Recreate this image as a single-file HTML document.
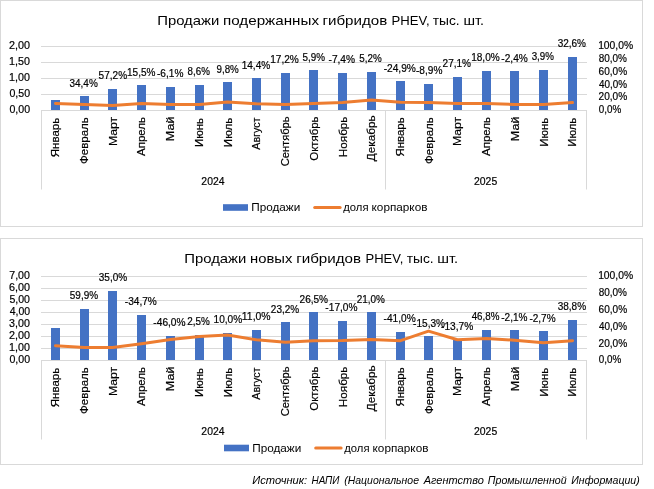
<!DOCTYPE html>
<html lang="ru"><head><meta charset="utf-8"><title>PHEV</title>
<style>html,body{margin:0;padding:0;background:#fff;}svg{display:block;}</style></head>
<body>
<svg width="654" height="489" viewBox="0 0 654 489">
<rect width="654" height="489" fill="#fff"/>
<rect x="0.5" y="0.5" width="642" height="226" fill="#fff" stroke="#D9D9D9" stroke-width="1"/>
<text id="c1t0" x="157.27" y="24.8" font-family="Liberation Sans, sans-serif"  font-size="13.5" fill="#000"  textLength="62.01" lengthAdjust="spacingAndGlyphs">Продажи</text>
<text id="c1t1" x="223.00" y="24.8" font-family="Liberation Sans, sans-serif"  font-size="13.5" fill="#000"  textLength="95.98" lengthAdjust="spacingAndGlyphs">подержанных</text>
<text id="c1t2" x="322.44" y="24.8" font-family="Liberation Sans, sans-serif"  font-size="13.5" fill="#000"  textLength="64.84" lengthAdjust="spacingAndGlyphs">гибридов</text>
<text id="c1t3" x="391.55" y="24.8" font-family="Liberation Sans, sans-serif"  font-size="13.5" fill="#000"  textLength="38.12" lengthAdjust="spacingAndGlyphs">PHEV,</text>
<text id="c1t4" x="432.71" y="24.8" font-family="Liberation Sans, sans-serif"  font-size="13.5" fill="#000"  textLength="26.92" lengthAdjust="spacingAndGlyphs">тыс.</text>
<text id="c1t5" x="463.58" y="24.8" font-family="Liberation Sans, sans-serif"  font-size="13.5" fill="#000"  textLength="20.52" lengthAdjust="spacingAndGlyphs">шт.</text>
<line x1="41.0" y1="46.5" x2="587.0" y2="46.5" stroke="#D9D9D9" stroke-width="1"/>
<line x1="41.0" y1="62.5" x2="587.0" y2="62.5" stroke="#D9D9D9" stroke-width="1"/>
<line x1="41.0" y1="78.5" x2="587.0" y2="78.5" stroke="#D9D9D9" stroke-width="1"/>
<line x1="41.0" y1="94.5" x2="587.0" y2="94.5" stroke="#D9D9D9" stroke-width="1"/>
<line x1="41.0" y1="110.5" x2="587.0" y2="110.5" stroke="#D9D9D9" stroke-width="1"/>
<text id="c1y0" x="9.01" y="49.2" font-family="Liberation Sans, sans-serif"  font-size="10.8" fill="#000" stroke="#000" stroke-width="0.2" textLength="20.99" lengthAdjust="spacingAndGlyphs">2,00</text>
<text id="c1y1" x="9.04" y="65.2" font-family="Liberation Sans, sans-serif"  font-size="10.8" fill="#000" stroke="#000" stroke-width="0.2" textLength="20.83" lengthAdjust="spacingAndGlyphs">1,50</text>
<text id="c1y2" x="9.04" y="81.2" font-family="Liberation Sans, sans-serif"  font-size="10.8" fill="#000" stroke="#000" stroke-width="0.2" textLength="20.83" lengthAdjust="spacingAndGlyphs">1,00</text>
<text id="c1y3" x="9.41" y="97.2" font-family="Liberation Sans, sans-serif"  font-size="10.8" fill="#000" stroke="#000" stroke-width="0.2" textLength="20.63" lengthAdjust="spacingAndGlyphs">0,50</text>
<text id="c1y4" x="9.41" y="113.2" font-family="Liberation Sans, sans-serif"  font-size="10.8" fill="#000" stroke="#000" stroke-width="0.2" textLength="20.63" lengthAdjust="spacingAndGlyphs">0,00</text>
<text id="c1r0" x="598.13" y="48.9" font-family="Liberation Sans, sans-serif"  font-size="10.8" fill="#000" stroke="#000" stroke-width="0.2" textLength="34.92" lengthAdjust="spacingAndGlyphs">100,0%</text>
<text id="c1r1" x="598.70" y="61.9" font-family="Liberation Sans, sans-serif"  font-size="10.8" fill="#000" stroke="#000" stroke-width="0.2" textLength="28.26" lengthAdjust="spacingAndGlyphs">80,0%</text>
<text id="c1r2" x="598.62" y="74.9" font-family="Liberation Sans, sans-serif"  font-size="10.8" fill="#000" stroke="#000" stroke-width="0.2" textLength="28.48" lengthAdjust="spacingAndGlyphs">60,0%</text>
<text id="c1r3" x="599.03" y="88.0" font-family="Liberation Sans, sans-serif"  font-size="10.8" fill="#000" stroke="#000" stroke-width="0.2" textLength="28.06" lengthAdjust="spacingAndGlyphs">40,0%</text>
<text id="c1r4" x="598.53" y="100.4" font-family="Liberation Sans, sans-serif"  font-size="10.8" fill="#000" stroke="#000" stroke-width="0.2" textLength="28.69" lengthAdjust="spacingAndGlyphs">20,0%</text>
<text id="c1r5" x="598.73" y="112.8" font-family="Liberation Sans, sans-serif"  font-size="10.8" fill="#000" stroke="#000" stroke-width="0.2" textLength="22.39" lengthAdjust="spacingAndGlyphs">0,0%</text>
<rect x="51" y="100" width="9" height="10.0" fill="#4472C4"/>
<rect x="80" y="96" width="9" height="14.0" fill="#4472C4"/>
<rect x="108" y="89" width="9" height="21.0" fill="#4472C4"/>
<rect x="137" y="85" width="9" height="25.0" fill="#4472C4"/>
<rect x="166" y="87" width="9" height="23.0" fill="#4472C4"/>
<rect x="195" y="85" width="9" height="25.0" fill="#4472C4"/>
<rect x="223" y="82" width="9" height="28.0" fill="#4472C4"/>
<rect x="252" y="78" width="9" height="32.0" fill="#4472C4"/>
<rect x="281" y="73" width="9" height="37.0" fill="#4472C4"/>
<rect x="309" y="70" width="9" height="40.0" fill="#4472C4"/>
<rect x="338" y="73" width="9" height="37.0" fill="#4472C4"/>
<rect x="367" y="72" width="9" height="38.0" fill="#4472C4"/>
<rect x="396" y="81" width="9" height="29.0" fill="#4472C4"/>
<rect x="424" y="84" width="9" height="26.0" fill="#4472C4"/>
<rect x="453" y="77" width="9" height="33.0" fill="#4472C4"/>
<rect x="482" y="71" width="9" height="39.0" fill="#4472C4"/>
<rect x="510" y="71" width="9" height="39.0" fill="#4472C4"/>
<rect x="539" y="70" width="9" height="40.0" fill="#4472C4"/>
<rect x="568" y="57" width="9" height="53.0" fill="#4472C4"/>
<line x1="41.5" y1="110.5" x2="41.5" y2="189.5" stroke="#D9D9D9" stroke-width="1"/>
<line x1="385.5" y1="110.5" x2="385.5" y2="189.5" stroke="#D9D9D9" stroke-width="1"/>
<line x1="586.5" y1="110.5" x2="586.5" y2="189.5" stroke="#D9D9D9" stroke-width="1"/>
<polyline points="55.5,103.5 84.5,104.5 112.5,105.4 141.5,103.4 170.5,104.6 199.5,104.6 227.5,102.0 256.5,103.8 285.5,104.6 313.5,103.4 342.5,102.6 371.5,100.1 400.5,102.3 428.5,102.6 457.5,103.6 486.5,103.6 514.5,104.4 543.5,104.4 572.5,102.6" fill="none" stroke="#ED7D31" stroke-width="3" stroke-linecap="round" stroke-linejoin="round"/>
<text id="c1d1" x="69.52" y="87.1" font-family="Liberation Sans, sans-serif"  font-size="10.8" fill="#000" stroke="#000" stroke-width="0.2" textLength="28.24" lengthAdjust="spacingAndGlyphs">34,4%</text>
<text id="c1d2" x="98.60" y="78.9" font-family="Liberation Sans, sans-serif"  font-size="10.8" fill="#000" stroke="#000" stroke-width="0.2" textLength="28.48" lengthAdjust="spacingAndGlyphs">57,2%</text>
<text id="c1d3" x="127.05" y="76.3" font-family="Liberation Sans, sans-serif"  font-size="10.8" fill="#000" stroke="#000" stroke-width="0.2" textLength="28.44" lengthAdjust="spacingAndGlyphs">15,5%</text>
<text id="c1d4" x="156.98" y="76.8" font-family="Liberation Sans, sans-serif"  font-size="10.8" fill="#000" stroke="#000" stroke-width="0.2" textLength="26.41" lengthAdjust="spacingAndGlyphs">-6,1%</text>
<text id="c1d5" x="187.57" y="75.1" font-family="Liberation Sans, sans-serif"  font-size="10.8" fill="#000" stroke="#000" stroke-width="0.2" textLength="22.27" lengthAdjust="spacingAndGlyphs">8,6%</text>
<text id="c1d6" x="216.51" y="72.7" font-family="Liberation Sans, sans-serif"  font-size="10.8" fill="#000" stroke="#000" stroke-width="0.2" textLength="22.30" lengthAdjust="spacingAndGlyphs">9,8%</text>
<text id="c1d7" x="241.67" y="69.3" font-family="Liberation Sans, sans-serif"  font-size="10.8" fill="#000" stroke="#000" stroke-width="0.2" textLength="28.52" lengthAdjust="spacingAndGlyphs">14,4%</text>
<text id="c1d8" x="270.18" y="62.9" font-family="Liberation Sans, sans-serif"  font-size="10.8" fill="#000" stroke="#000" stroke-width="0.2" textLength="28.69" lengthAdjust="spacingAndGlyphs">17,2%</text>
<text id="c1d9" x="302.62" y="60.9" font-family="Liberation Sans, sans-serif"  font-size="10.8" fill="#000" stroke="#000" stroke-width="0.2" textLength="22.46" lengthAdjust="spacingAndGlyphs">5,9%</text>
<text id="c1d10" x="328.50" y="63.1" font-family="Liberation Sans, sans-serif"  font-size="10.8" fill="#000" stroke="#000" stroke-width="0.2" textLength="26.55" lengthAdjust="spacingAndGlyphs">-7,4%</text>
<text id="c1d11" x="359.23" y="61.7" font-family="Liberation Sans, sans-serif"  font-size="10.8" fill="#000" stroke="#000" stroke-width="0.2" textLength="22.43" lengthAdjust="spacingAndGlyphs">5,2%</text>
<text id="c1d12" x="383.65" y="72.3" font-family="Liberation Sans, sans-serif"  font-size="10.8" fill="#000" stroke="#000" stroke-width="0.2" textLength="32.26" lengthAdjust="spacingAndGlyphs">-24,9%</text>
<text id="c1d13" x="415.98" y="73.8" font-family="Liberation Sans, sans-serif"  font-size="10.8" fill="#000" stroke="#000" stroke-width="0.2" textLength="26.41" lengthAdjust="spacingAndGlyphs">-8,9%</text>
<text id="c1d14" x="442.55" y="66.9" font-family="Liberation Sans, sans-serif"  font-size="10.8" fill="#000" stroke="#000" stroke-width="0.2" textLength="28.52" lengthAdjust="spacingAndGlyphs">27,1%</text>
<text id="c1d15" x="471.13" y="60.5" font-family="Liberation Sans, sans-serif"  font-size="10.8" fill="#000" stroke="#000" stroke-width="0.2" textLength="28.58" lengthAdjust="spacingAndGlyphs">18,0%</text>
<text id="c1d16" x="501.35" y="62.2" font-family="Liberation Sans, sans-serif"  font-size="10.8" fill="#000" stroke="#000" stroke-width="0.2" textLength="26.46" lengthAdjust="spacingAndGlyphs">-2,4%</text>
<text id="c1d17" x="531.64" y="59.9" font-family="Liberation Sans, sans-serif"  font-size="10.8" fill="#000" stroke="#000" stroke-width="0.2" textLength="22.22" lengthAdjust="spacingAndGlyphs">3,9%</text>
<text id="c1d18" x="557.64" y="46.8" font-family="Liberation Sans, sans-serif"  font-size="10.8" fill="#000" stroke="#000" stroke-width="0.2" textLength="28.34" lengthAdjust="spacingAndGlyphs">32,6%</text>
<text id="c1m0" transform="translate(59.3,157.21) rotate(-90)" font-family="Liberation Sans, sans-serif" font-size="11.2"  fill="#000" stroke="#000" stroke-width="0.2" textLength="39.34" lengthAdjust="spacingAndGlyphs">Январь</text>
<text id="c1m1" transform="translate(88.02,163.98) rotate(-90)" font-family="Liberation Sans, sans-serif" font-size="11.2"  fill="#000" stroke="#000" stroke-width="0.2" textLength="46.74" lengthAdjust="spacingAndGlyphs">Февраль</text>
<text id="c1m2" transform="translate(116.74,146.06) rotate(-90)" font-family="Liberation Sans, sans-serif" font-size="11.2"  fill="#000" stroke="#000" stroke-width="0.2" textLength="29.24" lengthAdjust="spacingAndGlyphs">Март</text>
<text id="c1m3" transform="translate(145.46,155.97) rotate(-90)" font-family="Liberation Sans, sans-serif" font-size="11.2"  fill="#000" stroke="#000" stroke-width="0.2" textLength="38.95" lengthAdjust="spacingAndGlyphs">Апрель</text>
<text id="c1m4" transform="translate(174.18,141.15) rotate(-90)" font-family="Liberation Sans, sans-serif" font-size="11.2"  fill="#000" stroke="#000" stroke-width="0.2" textLength="24.54" lengthAdjust="spacingAndGlyphs">Май</text>
<text id="c1m5" transform="translate(202.9,147.04) rotate(-90)" font-family="Liberation Sans, sans-serif" font-size="11.2"  fill="#000" stroke="#000" stroke-width="0.2" textLength="29.11" lengthAdjust="spacingAndGlyphs">Июнь</text>
<text id="c1m6" transform="translate(231.62,147.14) rotate(-90)" font-family="Liberation Sans, sans-serif" font-size="11.2"  fill="#000" stroke="#000" stroke-width="0.2" textLength="29.41" lengthAdjust="spacingAndGlyphs">Июль</text>
<text id="c1m7" transform="translate(260.34,149.72) rotate(-90)" font-family="Liberation Sans, sans-serif" font-size="11.2"  fill="#000" stroke="#000" stroke-width="0.2" textLength="32.15" lengthAdjust="spacingAndGlyphs">Август</text>
<text id="c1m8" transform="translate(289.06,166.29) rotate(-90)" font-family="Liberation Sans, sans-serif" font-size="11.2"  fill="#000" stroke="#000" stroke-width="0.2" textLength="49.81" lengthAdjust="spacingAndGlyphs">Сентябрь</text>
<text id="c1m9" transform="translate(317.78,160.70) rotate(-90)" font-family="Liberation Sans, sans-serif" font-size="11.2"  fill="#000" stroke="#000" stroke-width="0.2" textLength="44.28" lengthAdjust="spacingAndGlyphs">Октябрь</text>
<text id="c1m10" transform="translate(346.5,157.14) rotate(-90)" font-family="Liberation Sans, sans-serif" font-size="11.2"  fill="#000" stroke="#000" stroke-width="0.2" textLength="40.60" lengthAdjust="spacingAndGlyphs">Ноябрь</text>
<text id="c1m11" transform="translate(375.22,161.17) rotate(-90)" font-family="Liberation Sans, sans-serif" font-size="11.2"  fill="#000" stroke="#000" stroke-width="0.2" textLength="45.78" lengthAdjust="spacingAndGlyphs">Декабрь</text>
<text id="c1m12" transform="translate(403.94,156.59) rotate(-90)" font-family="Liberation Sans, sans-serif" font-size="11.2"  fill="#000" stroke="#000" stroke-width="0.2" textLength="39.31" lengthAdjust="spacingAndGlyphs">Январь</text>
<text id="c1m13" transform="translate(432.66,163.98) rotate(-90)" font-family="Liberation Sans, sans-serif" font-size="11.2"  fill="#000" stroke="#000" stroke-width="0.2" textLength="46.74" lengthAdjust="spacingAndGlyphs">Февраль</text>
<text id="c1m14" transform="translate(461.38,146.06) rotate(-90)" font-family="Liberation Sans, sans-serif" font-size="11.2"  fill="#000" stroke="#000" stroke-width="0.2" textLength="29.24" lengthAdjust="spacingAndGlyphs">Март</text>
<text id="c1m15" transform="translate(490.1,155.97) rotate(-90)" font-family="Liberation Sans, sans-serif" font-size="11.2"  fill="#000" stroke="#000" stroke-width="0.2" textLength="38.95" lengthAdjust="spacingAndGlyphs">Апрель</text>
<text id="c1m16" transform="translate(518.82,141.15) rotate(-90)" font-family="Liberation Sans, sans-serif" font-size="11.2"  fill="#000" stroke="#000" stroke-width="0.2" textLength="24.54" lengthAdjust="spacingAndGlyphs">Май</text>
<text id="c1m17" transform="translate(547.54,146.68) rotate(-90)" font-family="Liberation Sans, sans-serif" font-size="11.2"  fill="#000" stroke="#000" stroke-width="0.2" textLength="28.78" lengthAdjust="spacingAndGlyphs">Июнь</text>
<text id="c1m18" transform="translate(576.26,146.78) rotate(-90)" font-family="Liberation Sans, sans-serif" font-size="11.2"  fill="#000" stroke="#000" stroke-width="0.2" textLength="29.09" lengthAdjust="spacingAndGlyphs">Июль</text>
<text id="c1yr0" x="201.37" y="184.9" font-family="Liberation Sans, sans-serif"  font-size="10.8" fill="#000" stroke="#000" stroke-width="0.2" textLength="23.16" lengthAdjust="spacingAndGlyphs">2024</text>
<text id="c1yr1" x="474.00" y="184.9" font-family="Liberation Sans, sans-serif"  font-size="10.8" fill="#000" stroke="#000" stroke-width="0.2" textLength="23.23" lengthAdjust="spacingAndGlyphs">2025</text>
<rect x="223" y="204.2" width="25" height="6.6" fill="#4472C4"/>
<text id="c1l0" x="251.21" y="211.1" font-family="Liberation Sans, sans-serif"  font-size="10.8" fill="#000"  textLength="49.07" lengthAdjust="spacingAndGlyphs">Продажи</text>
<line x1="314.7" y1="207.5" x2="340.1" y2="207.5" stroke="#ED7D31" stroke-width="3" stroke-linecap="round"/>
<text id="c1l1" x="343.28" y="211.1" font-family="Liberation Sans, sans-serif"  font-size="10.8" fill="#000"  textLength="25.25" lengthAdjust="spacingAndGlyphs">доля</text>
<text id="c1l2" x="371.57" y="211.1" font-family="Liberation Sans, sans-serif"  font-size="10.8" fill="#000"  textLength="55.87" lengthAdjust="spacingAndGlyphs">корпарков</text>
<rect x="0.5" y="238.5" width="642" height="226" fill="#fff" stroke="#D9D9D9" stroke-width="1"/>
<text id="c2t0" x="184.30" y="262.8" font-family="Liberation Sans, sans-serif"  font-size="13.5" fill="#000"  textLength="62.02" lengthAdjust="spacingAndGlyphs">Продажи</text>
<text id="c2t1" x="249.98" y="262.8" font-family="Liberation Sans, sans-serif"  font-size="13.5" fill="#000"  textLength="42.32" lengthAdjust="spacingAndGlyphs">новых</text>
<text id="c2t2" x="296.17" y="262.8" font-family="Liberation Sans, sans-serif"  font-size="13.5" fill="#000"  textLength="64.92" lengthAdjust="spacingAndGlyphs">гибридов</text>
<text id="c2t3" x="365.47" y="262.8" font-family="Liberation Sans, sans-serif"  font-size="13.5" fill="#000"  textLength="37.85" lengthAdjust="spacingAndGlyphs">PHEV,</text>
<text id="c2t4" x="406.77" y="262.8" font-family="Liberation Sans, sans-serif"  font-size="13.5" fill="#000"  textLength="26.89" lengthAdjust="spacingAndGlyphs">тыс.</text>
<text id="c2t5" x="437.30" y="262.8" font-family="Liberation Sans, sans-serif"  font-size="13.5" fill="#000"  textLength="20.87" lengthAdjust="spacingAndGlyphs">шт.</text>
<line x1="41.0" y1="276.5" x2="587.0" y2="276.5" stroke="#D9D9D9" stroke-width="1"/>
<line x1="41.0" y1="288.5" x2="587.0" y2="288.5" stroke="#D9D9D9" stroke-width="1"/>
<line x1="41.0" y1="300.5" x2="587.0" y2="300.5" stroke="#D9D9D9" stroke-width="1"/>
<line x1="41.0" y1="312.5" x2="587.0" y2="312.5" stroke="#D9D9D9" stroke-width="1"/>
<line x1="41.0" y1="324.5" x2="587.0" y2="324.5" stroke="#D9D9D9" stroke-width="1"/>
<line x1="41.0" y1="336.5" x2="587.0" y2="336.5" stroke="#D9D9D9" stroke-width="1"/>
<line x1="41.0" y1="348.5" x2="587.0" y2="348.5" stroke="#D9D9D9" stroke-width="1"/>
<line x1="41.0" y1="360.5" x2="587.0" y2="360.5" stroke="#D9D9D9" stroke-width="1"/>
<text id="c2y0" x="9.26" y="279.2" font-family="Liberation Sans, sans-serif"  font-size="10.8" fill="#000" stroke="#000" stroke-width="0.2" textLength="20.62" lengthAdjust="spacingAndGlyphs">7,00</text>
<text id="c2y1" x="8.99" y="291.2" font-family="Liberation Sans, sans-serif"  font-size="10.8" fill="#000" stroke="#000" stroke-width="0.2" textLength="21.00" lengthAdjust="spacingAndGlyphs">6,00</text>
<text id="c2y2" x="9.42" y="303.2" font-family="Liberation Sans, sans-serif"  font-size="10.8" fill="#000" stroke="#000" stroke-width="0.2" textLength="20.54" lengthAdjust="spacingAndGlyphs">5,00</text>
<text id="c2y3" x="9.65" y="315.2" font-family="Liberation Sans, sans-serif"  font-size="10.8" fill="#000" stroke="#000" stroke-width="0.2" textLength="20.39" lengthAdjust="spacingAndGlyphs">4,00</text>
<text id="c2y4" x="9.08" y="327.2" font-family="Liberation Sans, sans-serif"  font-size="10.8" fill="#000" stroke="#000" stroke-width="0.2" textLength="20.78" lengthAdjust="spacingAndGlyphs">3,00</text>
<text id="c2y5" x="9.01" y="339.2" font-family="Liberation Sans, sans-serif"  font-size="10.8" fill="#000" stroke="#000" stroke-width="0.2" textLength="20.99" lengthAdjust="spacingAndGlyphs">2,00</text>
<text id="c2y6" x="9.04" y="351.2" font-family="Liberation Sans, sans-serif"  font-size="10.8" fill="#000" stroke="#000" stroke-width="0.2" textLength="20.83" lengthAdjust="spacingAndGlyphs">1,00</text>
<text id="c2y7" x="9.41" y="363.2" font-family="Liberation Sans, sans-serif"  font-size="10.8" fill="#000" stroke="#000" stroke-width="0.2" textLength="20.63" lengthAdjust="spacingAndGlyphs">0,00</text>
<text id="c2r0" x="598.13" y="279.3" font-family="Liberation Sans, sans-serif"  font-size="10.8" fill="#000" stroke="#000" stroke-width="0.2" textLength="34.92" lengthAdjust="spacingAndGlyphs">100,0%</text>
<text id="c2r1" x="598.70" y="296.1" font-family="Liberation Sans, sans-serif"  font-size="10.8" fill="#000" stroke="#000" stroke-width="0.2" textLength="28.26" lengthAdjust="spacingAndGlyphs">80,0%</text>
<text id="c2r2" x="598.62" y="312.90000000000003" font-family="Liberation Sans, sans-serif"  font-size="10.8" fill="#000" stroke="#000" stroke-width="0.2" textLength="28.48" lengthAdjust="spacingAndGlyphs">60,0%</text>
<text id="c2r3" x="599.03" y="329.70000000000005" font-family="Liberation Sans, sans-serif"  font-size="10.8" fill="#000" stroke="#000" stroke-width="0.2" textLength="28.06" lengthAdjust="spacingAndGlyphs">40,0%</text>
<text id="c2r4" x="598.53" y="346.5" font-family="Liberation Sans, sans-serif"  font-size="10.8" fill="#000" stroke="#000" stroke-width="0.2" textLength="28.69" lengthAdjust="spacingAndGlyphs">20,0%</text>
<text id="c2r5" x="598.73" y="363.3" font-family="Liberation Sans, sans-serif"  font-size="10.8" fill="#000" stroke="#000" stroke-width="0.2" textLength="22.39" lengthAdjust="spacingAndGlyphs">0,0%</text>
<rect x="51" y="328" width="9" height="32.0" fill="#4472C4"/>
<rect x="80" y="309" width="9" height="51.0" fill="#4472C4"/>
<rect x="108" y="291" width="9" height="69.0" fill="#4472C4"/>
<rect x="137" y="315" width="9" height="45.0" fill="#4472C4"/>
<rect x="166" y="336" width="9" height="24.0" fill="#4472C4"/>
<rect x="195" y="335" width="9" height="25.0" fill="#4472C4"/>
<rect x="223" y="333" width="9" height="27.0" fill="#4472C4"/>
<rect x="252" y="330" width="9" height="30.0" fill="#4472C4"/>
<rect x="281" y="322" width="9" height="38.0" fill="#4472C4"/>
<rect x="309" y="312" width="9" height="48.0" fill="#4472C4"/>
<rect x="338" y="321" width="9" height="39.0" fill="#4472C4"/>
<rect x="367" y="312" width="9" height="48.0" fill="#4472C4"/>
<rect x="396" y="332" width="9" height="28.0" fill="#4472C4"/>
<rect x="424" y="336" width="9" height="24.0" fill="#4472C4"/>
<rect x="453" y="340" width="9" height="20.0" fill="#4472C4"/>
<rect x="482" y="330" width="9" height="30.0" fill="#4472C4"/>
<rect x="510" y="330" width="9" height="30.0" fill="#4472C4"/>
<rect x="539" y="331" width="9" height="29.0" fill="#4472C4"/>
<rect x="568" y="320" width="9" height="40.0" fill="#4472C4"/>
<line x1="41.5" y1="360.5" x2="41.5" y2="439.5" stroke="#D9D9D9" stroke-width="1"/>
<line x1="385.5" y1="360.5" x2="385.5" y2="439.5" stroke="#D9D9D9" stroke-width="1"/>
<line x1="586.5" y1="360.5" x2="586.5" y2="439.5" stroke="#D9D9D9" stroke-width="1"/>
<polyline points="55.5,345.8 84.5,347.4 112.5,347.4 141.5,343.75 170.5,339.5 199.5,336.5 227.5,335.1 256.5,339.8 285.5,342.35 313.5,340.7 342.5,340.5 371.5,339.5 400.5,340.7 428.5,331.1 457.5,339.8 486.5,338.6 514.5,340.2 543.5,342.7 572.5,340.7" fill="none" stroke="#ED7D31" stroke-width="3" stroke-linecap="round" stroke-linejoin="round"/>
<text id="c2d1" x="69.81" y="299.1" font-family="Liberation Sans, sans-serif"  font-size="10.8" fill="#000" stroke="#000" stroke-width="0.2" textLength="28.26" lengthAdjust="spacingAndGlyphs">59,9%</text>
<text id="c2d2" x="98.80" y="281" font-family="Liberation Sans, sans-serif"  font-size="10.8" fill="#000" stroke="#000" stroke-width="0.2" textLength="28.39" lengthAdjust="spacingAndGlyphs">35,0%</text>
<text id="c2d3" x="124.86" y="304.8" font-family="Liberation Sans, sans-serif"  font-size="10.8" fill="#000" stroke="#000" stroke-width="0.2" textLength="32.00" lengthAdjust="spacingAndGlyphs">-34,7%</text>
<text id="c2d4" x="153.37" y="325.5" font-family="Liberation Sans, sans-serif"  font-size="10.8" fill="#000" stroke="#000" stroke-width="0.2" textLength="32.14" lengthAdjust="spacingAndGlyphs">-46,0%</text>
<text id="c2d5" x="187.31" y="324.7" font-family="Liberation Sans, sans-serif"  font-size="10.8" fill="#000" stroke="#000" stroke-width="0.2" textLength="22.53" lengthAdjust="spacingAndGlyphs">2,5%</text>
<text id="c2d6" x="213.53" y="322.7" font-family="Liberation Sans, sans-serif"  font-size="10.8" fill="#000" stroke="#000" stroke-width="0.2" textLength="28.67" lengthAdjust="spacingAndGlyphs">10,0%</text>
<text id="c2d7" x="241.87" y="319.6" font-family="Liberation Sans, sans-serif"  font-size="10.8" fill="#000" stroke="#000" stroke-width="0.2" textLength="28.73" lengthAdjust="spacingAndGlyphs">11,0%</text>
<text id="c2d8" x="270.87" y="312.6" font-family="Liberation Sans, sans-serif"  font-size="10.8" fill="#000" stroke="#000" stroke-width="0.2" textLength="28.28" lengthAdjust="spacingAndGlyphs">23,2%</text>
<text id="c2d9" x="299.55" y="302.8" font-family="Liberation Sans, sans-serif"  font-size="10.8" fill="#000" stroke="#000" stroke-width="0.2" textLength="28.52" lengthAdjust="spacingAndGlyphs">26,5%</text>
<text id="c2d10" x="325.37" y="311.4" font-family="Liberation Sans, sans-serif"  font-size="10.8" fill="#000" stroke="#000" stroke-width="0.2" textLength="32.14" lengthAdjust="spacingAndGlyphs">-17,0%</text>
<text id="c2d11" x="356.75" y="302.8" font-family="Liberation Sans, sans-serif"  font-size="10.8" fill="#000" stroke="#000" stroke-width="0.2" textLength="28.17" lengthAdjust="spacingAndGlyphs">21,0%</text>
<text id="c2d12" x="383.56" y="321.7" font-family="Liberation Sans, sans-serif"  font-size="10.8" fill="#000" stroke="#000" stroke-width="0.2" textLength="32.15" lengthAdjust="spacingAndGlyphs">-41,0%</text>
<text id="c2d13" x="413.07" y="327.2" font-family="Liberation Sans, sans-serif"  font-size="10.8" fill="#000" stroke="#000" stroke-width="0.2" textLength="31.99" lengthAdjust="spacingAndGlyphs">-15,3%</text>
<text id="c2d14" x="441.02" y="329.7" font-family="Liberation Sans, sans-serif"  font-size="10.8" fill="#000" stroke="#000" stroke-width="0.2" textLength="32.17" lengthAdjust="spacingAndGlyphs">-13,7%</text>
<text id="c2d15" x="471.65" y="319.6" font-family="Liberation Sans, sans-serif"  font-size="10.8" fill="#000" stroke="#000" stroke-width="0.2" textLength="27.77" lengthAdjust="spacingAndGlyphs">46,8%</text>
<text id="c2d16" x="501.23" y="320.5" font-family="Liberation Sans, sans-serif"  font-size="10.8" fill="#000" stroke="#000" stroke-width="0.2" textLength="26.26" lengthAdjust="spacingAndGlyphs">-2,1%</text>
<text id="c2d17" x="529.39" y="322.3" font-family="Liberation Sans, sans-serif"  font-size="10.8" fill="#000" stroke="#000" stroke-width="0.2" textLength="26.17" lengthAdjust="spacingAndGlyphs">-2,7%</text>
<text id="c2d18" x="557.64" y="310" font-family="Liberation Sans, sans-serif"  font-size="10.8" fill="#000" stroke="#000" stroke-width="0.2" textLength="28.44" lengthAdjust="spacingAndGlyphs">38,8%</text>
<text id="c2m0" transform="translate(59.3,407.21) rotate(-90)" font-family="Liberation Sans, sans-serif" font-size="11.2"  fill="#000" stroke="#000" stroke-width="0.2" textLength="39.34" lengthAdjust="spacingAndGlyphs">Январь</text>
<text id="c2m1" transform="translate(88.02,413.98) rotate(-90)" font-family="Liberation Sans, sans-serif" font-size="11.2"  fill="#000" stroke="#000" stroke-width="0.2" textLength="46.74" lengthAdjust="spacingAndGlyphs">Февраль</text>
<text id="c2m2" transform="translate(116.74,396.06) rotate(-90)" font-family="Liberation Sans, sans-serif" font-size="11.2"  fill="#000" stroke="#000" stroke-width="0.2" textLength="29.24" lengthAdjust="spacingAndGlyphs">Март</text>
<text id="c2m3" transform="translate(145.46,405.97) rotate(-90)" font-family="Liberation Sans, sans-serif" font-size="11.2"  fill="#000" stroke="#000" stroke-width="0.2" textLength="38.95" lengthAdjust="spacingAndGlyphs">Апрель</text>
<text id="c2m4" transform="translate(174.18,391.15) rotate(-90)" font-family="Liberation Sans, sans-serif" font-size="11.2"  fill="#000" stroke="#000" stroke-width="0.2" textLength="24.54" lengthAdjust="spacingAndGlyphs">Май</text>
<text id="c2m5" transform="translate(202.9,397.04) rotate(-90)" font-family="Liberation Sans, sans-serif" font-size="11.2"  fill="#000" stroke="#000" stroke-width="0.2" textLength="29.11" lengthAdjust="spacingAndGlyphs">Июнь</text>
<text id="c2m6" transform="translate(231.62,397.14) rotate(-90)" font-family="Liberation Sans, sans-serif" font-size="11.2"  fill="#000" stroke="#000" stroke-width="0.2" textLength="29.41" lengthAdjust="spacingAndGlyphs">Июль</text>
<text id="c2m7" transform="translate(260.34,399.72) rotate(-90)" font-family="Liberation Sans, sans-serif" font-size="11.2"  fill="#000" stroke="#000" stroke-width="0.2" textLength="32.15" lengthAdjust="spacingAndGlyphs">Август</text>
<text id="c2m8" transform="translate(289.06,416.29) rotate(-90)" font-family="Liberation Sans, sans-serif" font-size="11.2"  fill="#000" stroke="#000" stroke-width="0.2" textLength="49.81" lengthAdjust="spacingAndGlyphs">Сентябрь</text>
<text id="c2m9" transform="translate(317.78,410.70) rotate(-90)" font-family="Liberation Sans, sans-serif" font-size="11.2"  fill="#000" stroke="#000" stroke-width="0.2" textLength="44.28" lengthAdjust="spacingAndGlyphs">Октябрь</text>
<text id="c2m10" transform="translate(346.5,407.14) rotate(-90)" font-family="Liberation Sans, sans-serif" font-size="11.2"  fill="#000" stroke="#000" stroke-width="0.2" textLength="40.60" lengthAdjust="spacingAndGlyphs">Ноябрь</text>
<text id="c2m11" transform="translate(375.22,411.17) rotate(-90)" font-family="Liberation Sans, sans-serif" font-size="11.2"  fill="#000" stroke="#000" stroke-width="0.2" textLength="45.78" lengthAdjust="spacingAndGlyphs">Декабрь</text>
<text id="c2m12" transform="translate(403.94,406.59) rotate(-90)" font-family="Liberation Sans, sans-serif" font-size="11.2"  fill="#000" stroke="#000" stroke-width="0.2" textLength="39.31" lengthAdjust="spacingAndGlyphs">Январь</text>
<text id="c2m13" transform="translate(432.66,413.98) rotate(-90)" font-family="Liberation Sans, sans-serif" font-size="11.2"  fill="#000" stroke="#000" stroke-width="0.2" textLength="46.74" lengthAdjust="spacingAndGlyphs">Февраль</text>
<text id="c2m14" transform="translate(461.38,396.06) rotate(-90)" font-family="Liberation Sans, sans-serif" font-size="11.2"  fill="#000" stroke="#000" stroke-width="0.2" textLength="29.24" lengthAdjust="spacingAndGlyphs">Март</text>
<text id="c2m15" transform="translate(490.1,405.97) rotate(-90)" font-family="Liberation Sans, sans-serif" font-size="11.2"  fill="#000" stroke="#000" stroke-width="0.2" textLength="38.95" lengthAdjust="spacingAndGlyphs">Апрель</text>
<text id="c2m16" transform="translate(518.82,391.15) rotate(-90)" font-family="Liberation Sans, sans-serif" font-size="11.2"  fill="#000" stroke="#000" stroke-width="0.2" textLength="24.54" lengthAdjust="spacingAndGlyphs">Май</text>
<text id="c2m17" transform="translate(547.54,396.68) rotate(-90)" font-family="Liberation Sans, sans-serif" font-size="11.2"  fill="#000" stroke="#000" stroke-width="0.2" textLength="28.78" lengthAdjust="spacingAndGlyphs">Июнь</text>
<text id="c2m18" transform="translate(576.26,396.78) rotate(-90)" font-family="Liberation Sans, sans-serif" font-size="11.2"  fill="#000" stroke="#000" stroke-width="0.2" textLength="29.09" lengthAdjust="spacingAndGlyphs">Июль</text>
<text id="c2yr0" x="201.37" y="434.9" font-family="Liberation Sans, sans-serif"  font-size="10.8" fill="#000" stroke="#000" stroke-width="0.2" textLength="23.16" lengthAdjust="spacingAndGlyphs">2024</text>
<text id="c2yr1" x="474.00" y="434.9" font-family="Liberation Sans, sans-serif"  font-size="10.8" fill="#000" stroke="#000" stroke-width="0.2" textLength="23.23" lengthAdjust="spacingAndGlyphs">2025</text>
<rect x="224" y="444.7" width="25" height="6.6" fill="#4472C4"/>
<text id="c2l0" x="252.21" y="451.6" font-family="Liberation Sans, sans-serif"  font-size="10.8" fill="#000"  textLength="49.07" lengthAdjust="spacingAndGlyphs">Продажи</text>
<line x1="315.7" y1="448" x2="341.1" y2="448" stroke="#ED7D31" stroke-width="3" stroke-linecap="round"/>
<text id="c2l1" x="344.28" y="451.6" font-family="Liberation Sans, sans-serif"  font-size="10.8" fill="#000"  textLength="25.25" lengthAdjust="spacingAndGlyphs">доля</text>
<text id="c2l2" x="372.57" y="451.6" font-family="Liberation Sans, sans-serif"  font-size="10.8" fill="#000"  textLength="55.87" lengthAdjust="spacingAndGlyphs">корпарков</text>
<text id="f0" x="252.23" y="483.9" font-family="Liberation Sans, sans-serif" font-style="italic"  font-size="10.8" fill="#000"  textLength="54.98" lengthAdjust="spacingAndGlyphs">Источник:</text>
<text id="f1" x="311.48" y="483.9" font-family="Liberation Sans, sans-serif" font-style="italic"  font-size="10.8" fill="#000"  textLength="27.93" lengthAdjust="spacingAndGlyphs">НАПИ</text>
<text id="f2" x="344.20" y="483.9" font-family="Liberation Sans, sans-serif" font-style="italic"  font-size="10.8" fill="#000"  textLength="74.82" lengthAdjust="spacingAndGlyphs">(Национальное</text>
<text id="f3" x="423.70" y="483.9" font-family="Liberation Sans, sans-serif" font-style="italic"  font-size="10.8" fill="#000"  textLength="60.22" lengthAdjust="spacingAndGlyphs">Агентство</text>
<text id="f4" x="487.79" y="483.9" font-family="Liberation Sans, sans-serif" font-style="italic"  font-size="10.8" fill="#000"  textLength="78.81" lengthAdjust="spacingAndGlyphs">Промышленной</text>
<text id="f5" x="571.27" y="483.9" font-family="Liberation Sans, sans-serif" font-style="italic"  font-size="10.8" fill="#000"  textLength="68.52" lengthAdjust="spacingAndGlyphs">Информации)</text>
</svg>
</body></html>
